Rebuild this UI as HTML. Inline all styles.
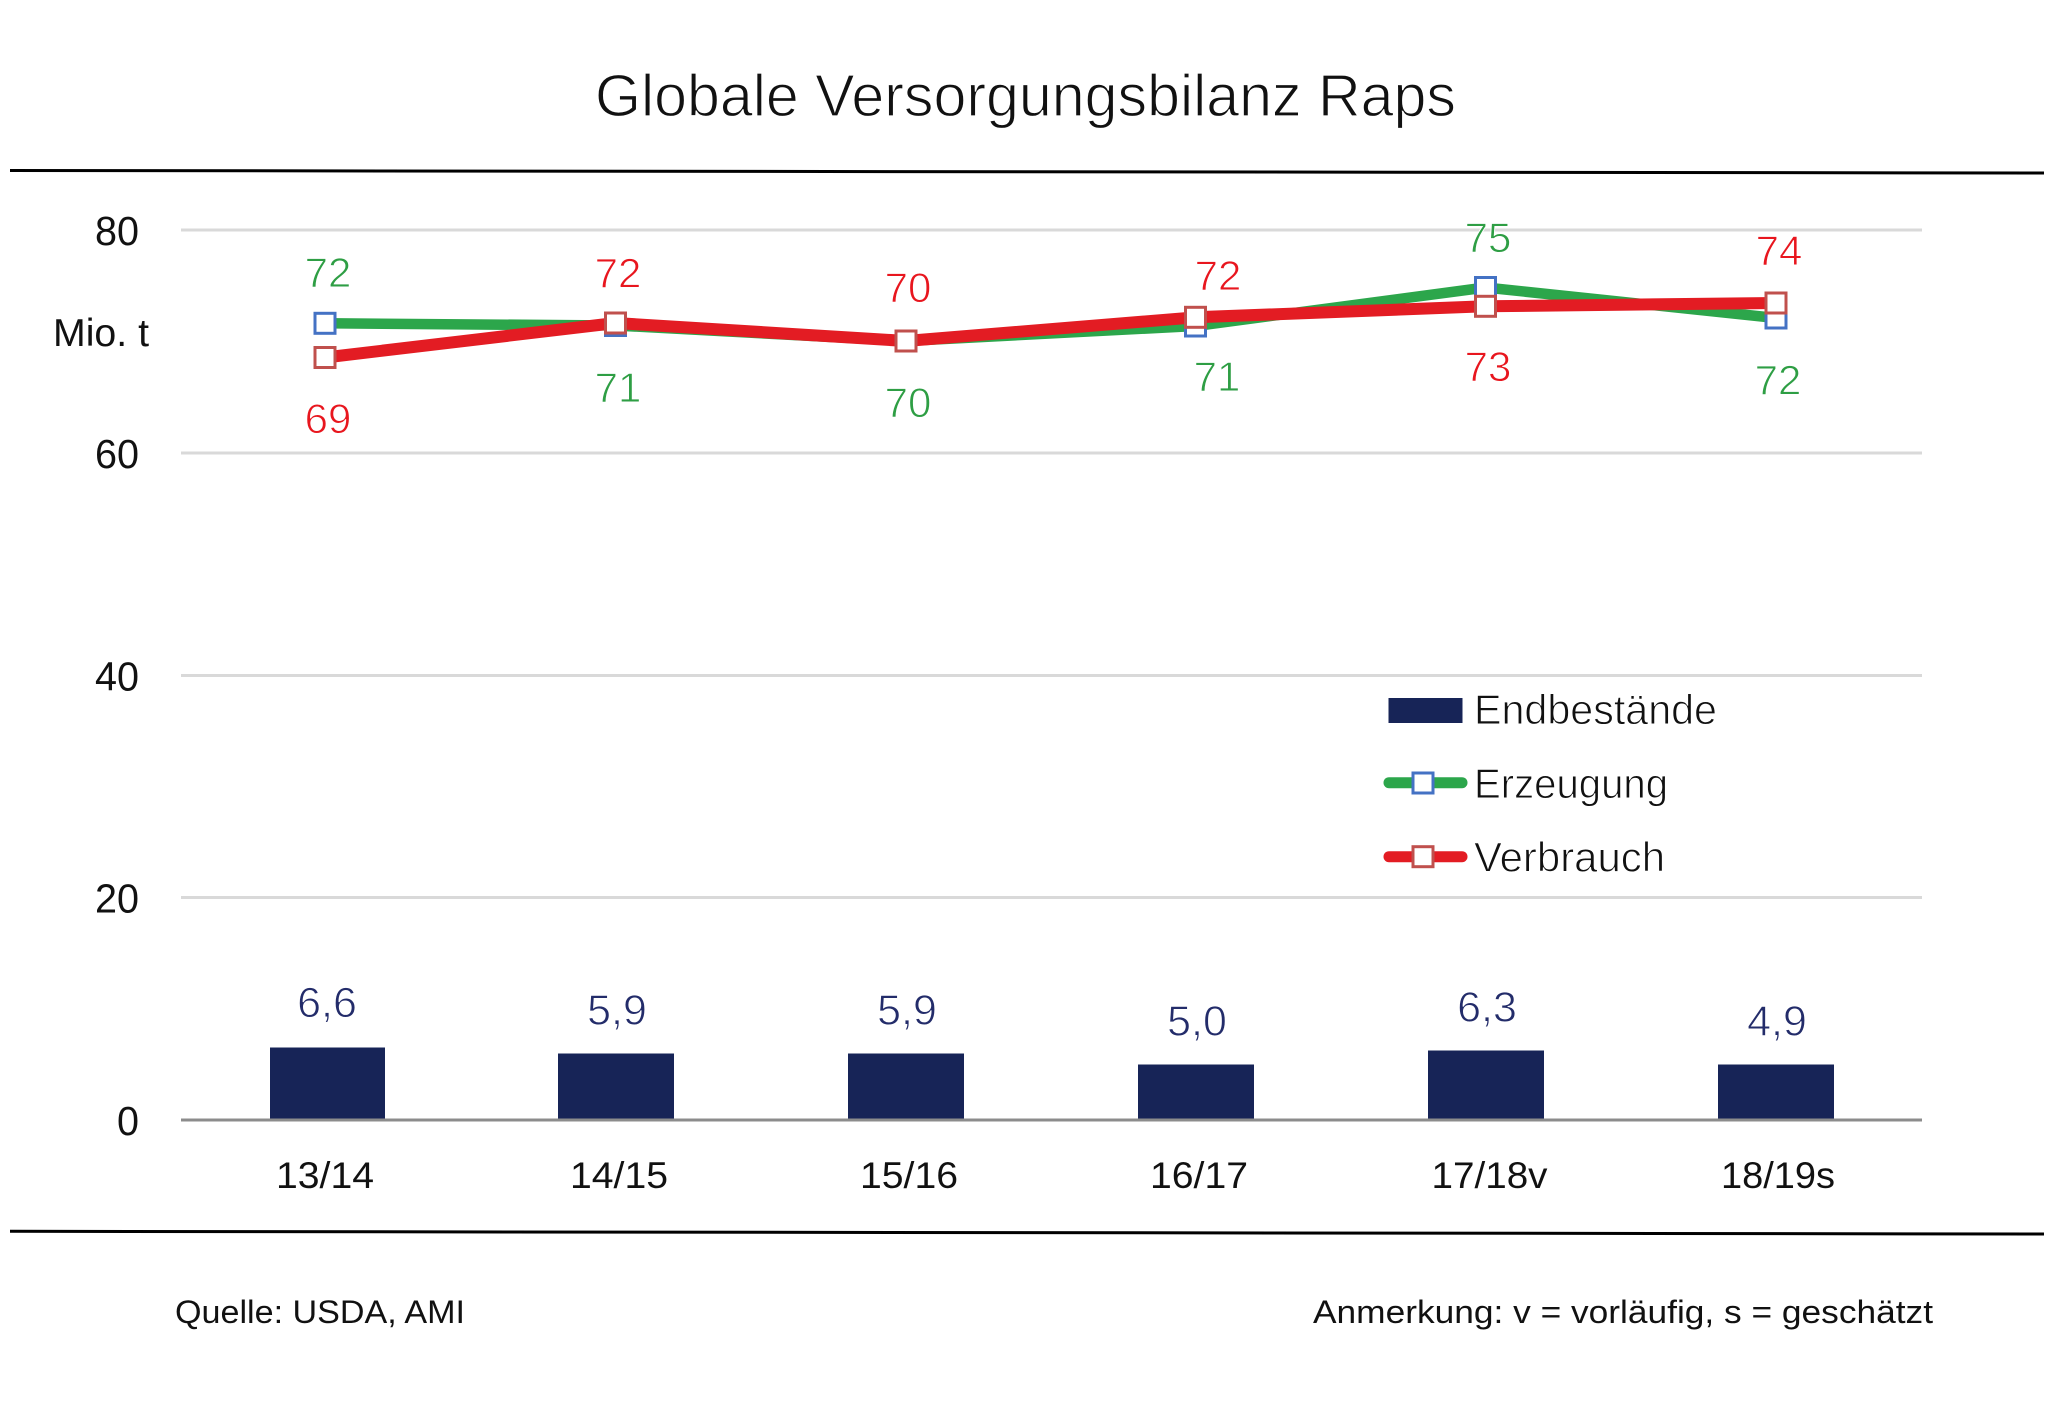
<!DOCTYPE html>
<html><head><meta charset="utf-8"><style>
html,body{margin:0;padding:0;background:#fff;}
svg{display:block;}
text{font-family:"Liberation Sans",sans-serif;}
</style></head><body>
<svg width="2048" height="1403" viewBox="0 0 2048 1403" xmlns="http://www.w3.org/2000/svg">
<rect width="2048" height="1403" fill="#fff"/>
<!-- title -->
<text x="595" y="116" font-size="59" fill="#111" stroke="#fff" stroke-width="1.2" textLength="861" lengthAdjust="spacingAndGlyphs">Globale Versorgungsbilanz Raps</text>
<!-- rules -->
<line x1="10" y1="170.5" x2="2044" y2="173" stroke="#000" stroke-width="3"/>
<line x1="10" y1="1231.3" x2="2044" y2="1234" stroke="#000" stroke-width="3"/>
<!-- gridlines -->
<g stroke="#d9d9d9" stroke-width="3">
<line x1="181" y1="230" x2="1922" y2="230"/>
<line x1="181" y1="453" x2="1922" y2="453"/>
<line x1="181" y1="675.5" x2="1922" y2="675.5"/>
<line x1="181" y1="897.5" x2="1922" y2="897.5"/>
</g>
<!-- y tick labels -->
<g font-size="41" fill="#111" text-anchor="end">
<text x="139" y="245" textLength="44" lengthAdjust="spacingAndGlyphs">80</text>
<text x="139" y="468" textLength="44" lengthAdjust="spacingAndGlyphs">60</text>
<text x="139" y="690.5" textLength="44" lengthAdjust="spacingAndGlyphs">40</text>
<text x="139" y="912.5" textLength="44" lengthAdjust="spacingAndGlyphs">20</text>
<text x="139" y="1135" textLength="22" lengthAdjust="spacingAndGlyphs">0</text>
</g>
<text x="53" y="346" font-size="39" fill="#111" textLength="96" lengthAdjust="spacingAndGlyphs">Mio. t</text>
<!-- bars -->
<g fill="#172457">
<rect x="270" y="1047.5" width="115" height="72.5"/>
<rect x="558" y="1053.5" width="116" height="66.5"/>
<rect x="848" y="1053.5" width="116" height="66.5"/>
<rect x="1138" y="1064.5" width="116" height="55.5"/>
<rect x="1428" y="1050.5" width="116" height="69.5"/>
<rect x="1718" y="1064.5" width="116" height="55.5"/>
</g>
<line x1="181" y1="1120" x2="1922" y2="1120" stroke="#8c8c8c" stroke-width="3"/>
<!-- bar labels -->
<g font-size="43" fill="#232c6a" text-anchor="middle" stroke="#fff" stroke-width="0.9">
<text x="327" y="1017">6,6</text>
<text x="617" y="1024.5">5,9</text>
<text x="907" y="1024.5">5,9</text>
<text x="1197" y="1035.5">5,0</text>
<text x="1487" y="1021.5">6,3</text>
<text x="1777" y="1035.5">4,9</text>
</g>
<!-- category labels -->
<g font-size="37" fill="#111" text-anchor="middle">
<text x="325" y="1188" textLength="98" lengthAdjust="spacingAndGlyphs">13/14</text>
<text x="619" y="1188" textLength="98" lengthAdjust="spacingAndGlyphs">14/15</text>
<text x="909" y="1188" textLength="98" lengthAdjust="spacingAndGlyphs">15/16</text>
<text x="1199" y="1188" textLength="98" lengthAdjust="spacingAndGlyphs">16/17</text>
<text x="1489.5" y="1188" textLength="116" lengthAdjust="spacingAndGlyphs">17/18v</text>
<text x="1778" y="1188" textLength="114" lengthAdjust="spacingAndGlyphs">18/19s</text>
</g>
<!-- Erzeugung -->
<polyline points="325,323.3 615.5,325.5 906,341 1195.5,326 1485.5,287.5 1776,318" fill="none" stroke="#2ca64b" stroke-width="10.5" stroke-linejoin="round" stroke-linecap="round"/>
<g fill="#fff" stroke="#4472c4" stroke-width="3">
<rect x="315" y="313.3" width="20" height="20"/>
<rect x="605.5" y="315.5" width="20" height="20"/>
<rect x="896" y="331" width="20" height="20"/>
<rect x="1185.5" y="316" width="20" height="20"/>
<rect x="1475.5" y="277.5" width="20" height="20"/>
<rect x="1766" y="308" width="20" height="20"/>
</g>
<!-- Verbrauch -->
<polyline points="325,357.5 615.5,323 906,341 1195.5,317.3 1485.5,306.3 1776,303" fill="none" stroke="#e31c23" stroke-width="12" stroke-linejoin="round" stroke-linecap="round"/>
<g fill="#fff" stroke="#c0504d" stroke-width="3">
<rect x="315" y="347.5" width="20" height="20"/>
<rect x="605.5" y="313" width="20" height="20"/>
<rect x="896" y="331" width="20" height="20"/>
<rect x="1185.5" y="307.3" width="20" height="20"/>
<rect x="1475.5" y="296.3" width="20" height="20"/>
<rect x="1766" y="293" width="20" height="20"/>
</g>
<!-- data labels -->
<g font-size="42" text-anchor="middle" stroke="#fff" stroke-width="0.9">
<text x="328" y="287" fill="#2e9e44">72</text>
<text x="328" y="433" fill="#e8161e">69</text>
<text x="618" y="287.3" fill="#e8161e">72</text>
<text x="618" y="402" fill="#2e9e44">71</text>
<text x="908" y="302" fill="#e8161e">70</text>
<text x="908" y="417" fill="#2e9e44">70</text>
<text x="1218" y="290" fill="#e8161e">72</text>
<text x="1217" y="391" fill="#2e9e44">71</text>
<text x="1488" y="252" fill="#2e9e44">75</text>
<text x="1488" y="381" fill="#e8161e">73</text>
<text x="1779" y="265" fill="#e8161e">74</text>
<text x="1778" y="394.5" fill="#2e9e44">72</text>
</g>
<!-- legend -->
<rect x="1388.5" y="698" width="74" height="25" fill="#172457"/>
<line x1="1389" y1="782.7" x2="1462" y2="782.7" stroke="#2ca64b" stroke-width="11" stroke-linecap="round"/>
<rect x="1413" y="773" width="20" height="20" fill="#fff" stroke="#4472c4" stroke-width="3"/>
<line x1="1389" y1="856.7" x2="1462" y2="856.7" stroke="#e31c23" stroke-width="11" stroke-linecap="round"/>
<rect x="1413" y="846.7" width="20" height="20" fill="#fff" stroke="#c0504d" stroke-width="3"/>
<g font-size="42" fill="#111" stroke="#fff" stroke-width="0.9">
<text x="1474" y="724" textLength="243" lengthAdjust="spacingAndGlyphs">Endbestände</text>
<text x="1474" y="798" textLength="194" lengthAdjust="spacingAndGlyphs">Erzeugung</text>
<text x="1474" y="871.7" textLength="191" lengthAdjust="spacingAndGlyphs">Verbrauch</text>
</g>
<!-- footer -->
<g font-size="32" fill="#111">
<text x="175" y="1323" textLength="290" lengthAdjust="spacingAndGlyphs">Quelle: USDA, AMI</text>
<text x="1313" y="1323" textLength="620" lengthAdjust="spacingAndGlyphs">Anmerkung: v = vorläufig, s = geschätzt</text>
</g>
</svg>
</body></html>
